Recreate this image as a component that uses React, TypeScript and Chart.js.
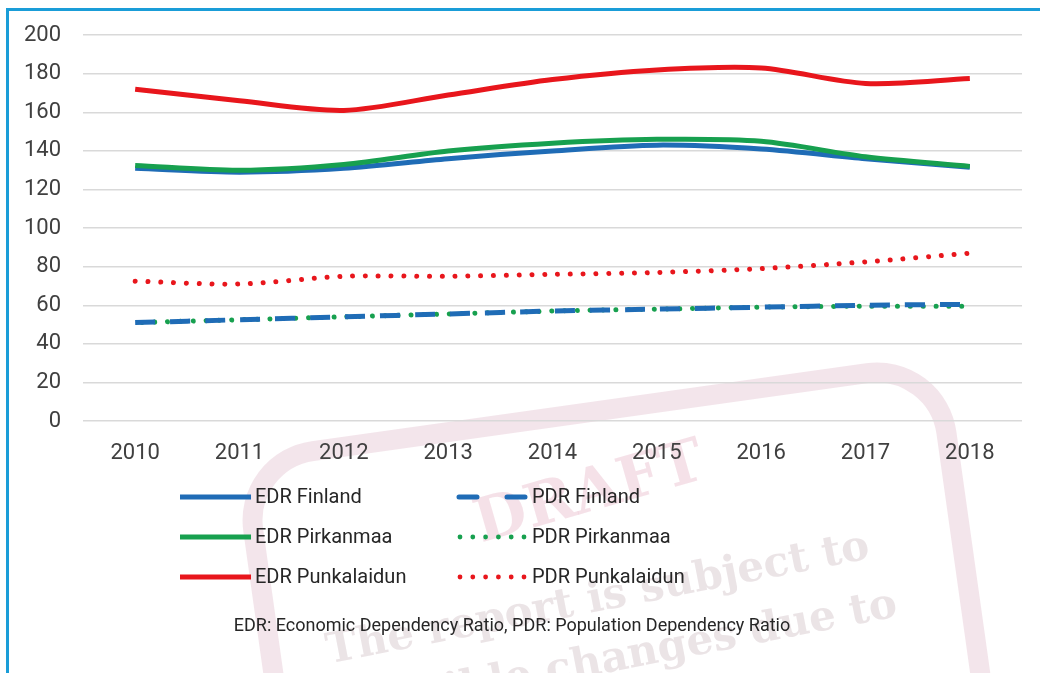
import React, { useEffect, useRef } from "react";
import { Chart, registerables } from "chart.js";

Chart.register(...registerables);

const years = ["2010", "2011", "2012", "2013", "2014", "2015", "2016", "2017", "2018"];
const edrFinland = [131, 129, 131, 136, 140, 143, 141, 136, 131.5];
const edrPirkanmaa = [132.5, 130, 133, 140, 144, 146, 145, 137, 132];
const edrPunkalaidun = [172, 166, 161, 169, 177, 182, 183, 175, 177.5];
const pdrFinland = [51, 52.5, 54, 55.5, 57, 58, 59, 60, 60.5];
const pdrPirkanmaa = [51, 52.5, 54, 55.5, 57, 58, 59, 59.5, 59.5];
const pdrPunkalaidun = [72.5, 71, 75, 75, 76, 77, 79, 82.5, 87];
const yMin = 0;
const yMax = 200;
const yStep = 20;
const footnote = "EDR: Economic Dependency Ratio, PDR: Population Dependency Ratio";
const stampTitle = "DRAFT";
const stampLines = ["The report is subject to", "possible changes due to"];

const BLUE = "#1f6cb6";
const GREEN = "#17a04f";
const RED = "#e8161c";
const FONT = "Roboto, 'Noto Sans', sans-serif";

type Item = { label: string; color: string; kind: "solid" | "dash" | "dot" };
const legendCol1: Item[] = [
  { label: "EDR Finland", color: BLUE, kind: "solid" },
  { label: "EDR Pirkanmaa", color: GREEN, kind: "solid" },
  { label: "EDR Punkalaidun", color: RED, kind: "solid" },
];
const legendCol2: Item[] = [
  { label: "PDR Finland", color: BLUE, kind: "dash" },
  { label: "PDR Pirkanmaa", color: GREEN, kind: "dot" },
  { label: "PDR Punkalaidun", color: RED, kind: "dot" },
];

const decorPlugin = {
  id: "decor",
  beforeDraw(chart: any) {
    const ctx = chart.ctx as CanvasRenderingContext2D;
    ctx.save();
    ctx.fillStyle = "#ffffff";
    ctx.fillRect(0, 0, chart.width, chart.height);
    // watermark stamp
    ctx.translate(620, 625);
    ctx.rotate((-8 * Math.PI) / 180);
    ctx.strokeStyle = "rgba(240, 222, 230, 0.8)";
    ctx.lineWidth = 20;
    const w = 700, h = 430, r = 70;
    const x0 = -w / 2, y0 = -h / 2;
    ctx.beginPath();
    ctx.moveTo(x0 + r, y0);
    ctx.lineTo(x0 + w - r, y0);
    ctx.arcTo(x0 + w, y0, x0 + w, y0 + r, r);
    ctx.lineTo(x0 + w, y0 + h - r);
    ctx.arcTo(x0 + w, y0 + h, x0 + w - r, y0 + h, r);
    ctx.lineTo(x0 + r, y0 + h);
    ctx.arcTo(x0, y0 + h, x0, y0 + h - r, r);
    ctx.lineTo(x0, y0 + r);
    ctx.arcTo(x0, y0, x0 + r, y0, r);
    ctx.closePath();
    ctx.stroke();
    ctx.restore();

    ctx.save();
    ctx.translate(590, 495);
    ctx.rotate((-16 * Math.PI) / 180);
    ctx.font = "bold 60px 'DejaVu Serif', serif";
    ctx.fillStyle = "rgba(238, 205, 216, 0.6)";
    ctx.textAlign = "center";
    ctx.textBaseline = "middle";
    ctx.fillText(stampTitle, 0, 0);
    ctx.restore();

    ctx.save();
    ctx.font = "bold 42px 'DejaVu Serif', serif";
    ctx.fillStyle = "rgba(222, 210, 214, 0.6)";
    ctx.textAlign = "center";
    ctx.textBaseline = "middle";
    ctx.translate(598, 600);
    ctx.rotate((-11 * Math.PI) / 180);
    ctx.fillText(stampLines[0], 0, 0);
    ctx.fillText(stampLines[1], 10, 62);
    ctx.restore();
  },
  afterDraw(chart: any) {
    const ctx = chart.ctx as CanvasRenderingContext2D;
    ctx.save();
    // frame
    ctx.strokeStyle = "#1a9dd8";
    ctx.lineWidth = 3;
    ctx.beginPath();
    ctx.moveTo(7.5, 700);
    ctx.lineTo(7.5, 9.5);
    ctx.lineTo(1100, 9.5);
    ctx.stroke();

    // legend
    const rows = [497, 537, 577];
    const drawSample = (it: Item, x1: number, x2: number, y: number) => {
      ctx.save();
      ctx.strokeStyle = it.color;
      ctx.fillStyle = it.color;
      if (it.kind === "solid") {
        ctx.lineWidth = 5;
        ctx.lineCap = "butt";
        ctx.beginPath();
        ctx.moveTo(x1, y);
        ctx.lineTo(x2, y);
        ctx.stroke();
      } else if (it.kind === "dash") {
        ctx.lineWidth = 5;
        ctx.lineCap = "round";
        ctx.beginPath();
        ctx.moveTo(x1 + 2, y);
        ctx.lineTo(x1 + 20, y);
        ctx.moveTo(x2 - 20, y);
        ctx.lineTo(x2 - 2, y);
        ctx.stroke();
      } else {
        for (let i = 0; i < 6; i++) {
          ctx.beginPath();
          ctx.arc(x1 + 3 + i * 12.8, y, 2.4, 0, Math.PI * 2);
          ctx.fill();
        }
      }
      ctx.restore();
    };
    ctx.font = `20px ${FONT}`;
    ctx.fillStyle = "#262626";
    ctx.textBaseline = "middle";
    ctx.textAlign = "left";
    legendCol1.forEach((it, i) => {
      drawSample(it, 180, 251, rows[i]);
      ctx.fillStyle = "#262626";
      ctx.fillText(it.label, 255, rows[i] + 1);
    });
    legendCol2.forEach((it, i) => {
      drawSample(it, 457, 527, rows[i]);
      ctx.fillStyle = "#262626";
      ctx.fillText(it.label, 532, rows[i] + 1);
    });

    ctx.font = `18px ${FONT}`;
    ctx.fillStyle = "#262626";
    ctx.textAlign = "center";
    ctx.fillText(footnote, 512, 626);
    ctx.restore();
  },
};

export default function App() {
  const ref = useRef<HTMLCanvasElement | null>(null);
  useEffect(() => {
    if (!ref.current) return;
    const dotCommon = { borderDash: [0.01, 12.8], borderCapStyle: "round", borderWidth: 5 };
    const chart = new Chart(ref.current, {
      type: "line",
      data: {
        labels: years,
        datasets: [
          { label: "EDR Punkalaidun", data: edrPunkalaidun, borderColor: RED, borderWidth: 5, tension: 0.3 },
          { label: "EDR Pirkanmaa", data: edrPirkanmaa, borderColor: GREEN, borderWidth: 5, tension: 0.3 },
          { label: "EDR Finland", data: edrFinland, borderColor: BLUE, borderWidth: 5, tension: 0.3 },
          { label: "PDR Punkalaidun", data: pdrPunkalaidun, borderColor: RED, tension: 0.3, ...dotCommon },
          { label: "PDR Finland", data: pdrFinland, borderColor: BLUE, borderWidth: 5, borderDash: [20, 15], tension: 0.3 },
          { label: "PDR Pirkanmaa", data: pdrPirkanmaa, borderColor: GREEN, tension: 0.3, ...dotCommon, borderDashOffset: 6 },
        ] as any,
      },
      options: {
        animation: false,
        responsive: false,
        devicePixelRatio: 1,
        layout: { padding: { left: 0, right: 18, top: 35, bottom: 202 } },
        elements: { point: { radius: 0, hoverRadius: 0 }, line: { fill: false } },
        plugins: { legend: { display: false }, tooltip: { enabled: false }, title: { display: false } },
        scales: {
          x: {
            offset: true,
            grid: { display: false, drawTicks: false },
            border: { display: false },
            ticks: { color: "#404040", font: { family: FONT, size: 22 }, padding: 19, maxRotation: 0 },
            afterFit: (s: any) => { s.height = 50; },
          },
          y: {
            min: yMin,
            max: yMax,
            grid: { color: "#d9d9d9", lineWidth: 1.5, drawTicks: false },
            border: { display: false },
            ticks: { stepSize: yStep, color: "#404040", font: { family: FONT, size: 22 }, padding: 22 },
            afterFit: (s: any) => { s.width = 83; },
          },
        },
      },
      plugins: [decorPlugin],
    });
    return () => chart.destroy();
  }, []);
  return (
    <div style={{ position: "absolute", left: 0, top: 0, width: 1040, height: 673, overflow: "hidden" }}>
      <canvas ref={ref} width={1040} height={673} style={{ width: 1040, height: 673, display: "block" }} />
    </div>
  );
}
